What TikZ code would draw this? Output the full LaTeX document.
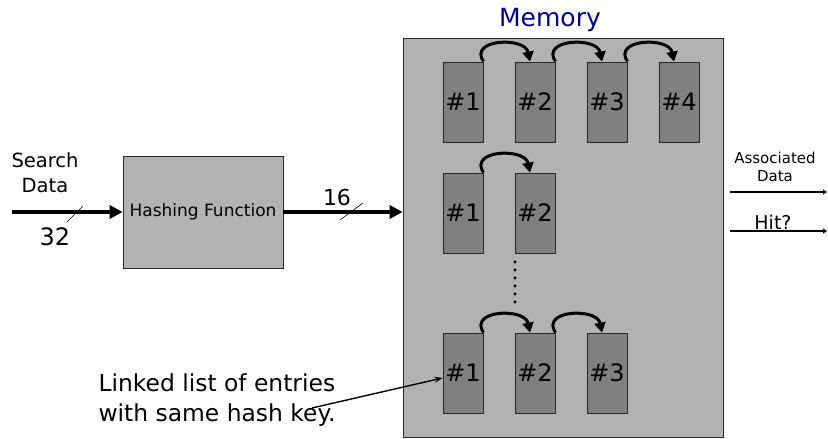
\documentclass[tikz,border=0pt]{standalone}
\usepackage{fontspec}
\setmainfont{DejaVu Sans}
\usetikzlibrary{arrows.meta,positioning}
\definecolor{memgray}{RGB}{178,178,178}
\definecolor{entgray}{RGB}{128,128,128}
\definecolor{memblue}{RGB}{0,0,170}
\definecolor{edgegray}{RGB}{40,40,40}

\begin{document}
\begin{tikzpicture}[x=1pt, y=1pt,
    block/.style={draw=edgegray, fill=memgray, line width=0.8pt, inner sep=0pt},
    entry/.style={draw=edgegray, fill=entgray, line width=0.8pt, inner sep=0pt,
        minimum width=40pt, minimum height=80pt, font=\fontsize{24}{24}\selectfont},
    bus/.style={line width=4pt, -{Triangle[length=13pt,width=13pt]}},
    link/.style={line width=3pt, -{Triangle[length=10pt,width=11pt]}},
    wire/.style={line width=1.5pt, -{Triangle[length=4pt,width=5pt]}},
    pointer/.style={line width=1.4pt, -{Stealth[length=8pt,width=6pt]}}]
\useasboundingbox (0,0) rectangle (828,439);

% Memory and its buckets
\node[block, minimum width=320pt, minimum height=399pt] (mem) at (563,201.5) {};
\node[font=\fontsize{25}{25}\selectfont, text=memblue] (memlbl) at (550,419) {Memory};

\foreach \i/\x in {1/463, 2/535, 3/607, 4/679}
    \node[entry] (a\i) at (\x,337) {\#\i};
\foreach \i/\x in {1/463, 2/535}
    \node[entry] (b\i) at (\x,226) {\#\i};
\foreach \i/\x in {1/463, 2/535, 3/607}
    \node[entry] (c\i) at (\x,66) {\#\i};

% Links between entries
\foreach \r/\i/\j in {a/1/2, a/2/3, a/3/4, b/1/2, c/1/2, c/2/3}
    \draw[link] (\r\i.north east) .. controls +(-15,23) and +(-5,25) .. ([xshift=-5pt]\r\j.north);

% Dots between the lists
\foreach \k in {0,...,5}
    \fill (515,{177-8*\k}) circle (1.7pt);

% Hashing function
\node[block, minimum width=160pt, minimum height=112pt, font=\fontsize{17}{17}\selectfont] (hash) at (203,227) {Hashing Function};

\coordinate (src) at (12,227);
\draw[bus] (src) -- (hash.west);
\draw[bus] (hash.east) -- (hash.east -| mem.west);
\draw[line width=0.6pt] (67,217) -- (83,233);
\draw[line width=0.6pt] (340,219) -- (363,236);

\node[align=center, font=\fontsize{19.5}{25}\selectfont] (search) at (45,266.5) {Search\\Data};
\node[font=\fontsize{24}{24}\selectfont] (w32) at (55,202) {32};
\node[font=\fontsize{22}{22}\selectfont] (w16) at (337,242) {16};

% Outputs
\node[align=center, font=\fontsize{15}{18}\selectfont] (assoc) at (775,272) {Associated\\Data};
\coordinate (ad0) at (730,247);
\coordinate (ad1) at (827,247);
\draw[wire] (ad0) -- (ad1);

\node[anchor=base, font=\fontsize{19}{19}\selectfont] (hit) at (773,209.5) {Hit?};
\coordinate (hit0) at (730,208);
\coordinate (hit1) at (827,208);
\draw[wire] (hit0) -- (hit1);

% Note
\node[anchor=west, align=left, font=\fontsize{23.4}{30}\selectfont] (note) at (95,39) {Linked list of entries\\with same hash key.};
\coordinate (notefrom) at (312,31);
\draw[pointer] (notefrom) -- ([yshift=-5pt]c1.west);

\end{tikzpicture}
\end{document}
